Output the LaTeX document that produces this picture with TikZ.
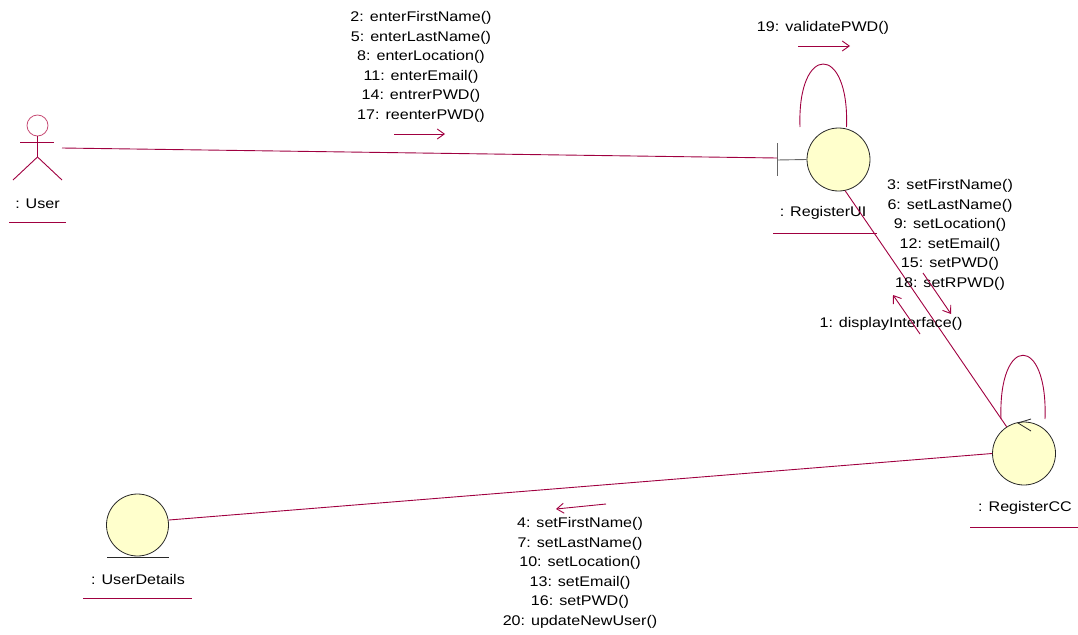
\documentclass[tikz,border=0pt]{standalone}
\usepackage{fontspec}
\setmainfont{Liberation Sans}[FakeStretch=1.15]
\usetikzlibrary{arrows.meta}
\definecolor{wine}{RGB}{160,0,64}
\definecolor{headc}{RGB}{200,80,120}
\definecolor{objfill}{RGB}{255,255,204}
\definecolor{objline}{RGB}{40,40,40}
\begin{document}
\begin{tikzpicture}[x=1pt,y=-1pt,
  conn/.style={draw=wine,line width=0.9pt},
  msgarrow/.style={draw=wine,line width=0.9pt,-{Straight Barb[length=7pt,width=10pt]}},
  objcircle/.style={circle,draw=objline,fill=objfill,line width=0.8pt,minimum size=63pt,inner sep=0pt},
  lbl/.style={font=\fontsize{14}{19.5}\selectfont,align=center,inner sep=0pt,text=black},
  uline/.style={draw=wine,line width=0.9pt}]
\useasboundingbox (0,0) rectangle (1078,634);

% ---------- User actor ----------
\node[circle,draw=headc,line width=0.8pt,minimum size=21pt,inner sep=0pt] (userhead) at (37.5,125.5) {};
\draw[conn] (20,142) -- (54,142);
\draw[conn] (userhead.south) -- (37.5,157) coordinate (hip);
\draw[conn] (hip) -- (13,180);
\draw[conn] (hip) -- (62,180);
\node[lbl] (userlbl) at (37.5,204) {: User};
\draw[uline] (9,222) -- (66,222);
\coordinate (userR) at (62,148);

% ---------- RegisterUI (boundary) ----------
\node[objcircle] (ui) at (838.5,159.5) {};
\draw[draw=gray!80!black,line width=0.9pt] (777,143) -- (777,176);
\draw[draw=gray!80!black,line width=0.9pt] (777,160) -- (ui.west);
\coordinate (uibar) at (777,158);
\node[lbl] (uilbl) at (823,213) {: RegisterUI};
\draw[uline] (773,233) -- (877,233);

% ---------- RegisterCC (control) ----------
\node[objcircle] (cc) at (1024,453.5) {};
\draw[draw=objline,line width=0.8pt] (1031,419) -- (1018,423) -- (1031,431);
\node[lbl] (cclbl) at (1025,508) {: RegisterCC};
\draw[uline] (970,527) -- (1078,527);

% ---------- UserDetails (entity) ----------
\node[objcircle,minimum size=62pt] (ud) at (137.5,525) {};
\draw[draw=objline,line width=0.8pt] (107,557) -- (169,557);
\node[lbl] (udlbl) at (138,579) {: UserDetails};
\draw[uline] (83,598) -- (192,598);

% ---------- links ----------
\draw[conn] (userR) -- (uibar);
\draw[conn] (ui.-78) -- (cc.123);
\draw[conn] (ud.east) ++(0,-5) coordinate (udE) (udE) -- (cc.west);

% self loops
\coordinate (uiloopL) at (800,127);
\coordinate (uiloopR) at (846.5,127);
\draw[conn] (uiloopL) .. controls (797,43) and (849.5,43) .. (uiloopR);
\coordinate (ccloopL) at (1001,419);
\coordinate (ccloopR) at (1045,419);
\draw[conn] (ccloopL) .. controls (998,334) and (1048,334) .. (ccloopR);

% ---------- messages ----------
\node[lbl] (m1) at (421,67) {2: enterFirstName()\\5: enterLastName()\\8: enterLocation()\\11: enterEmail()\\14: entrerPWD()\\17: reenterPWD()};
\coordinate (m1a) at (394,134); \coordinate (m1b) at (445,134);
\draw[msgarrow] (m1a) -- (m1b);

\node[lbl] (m2) at (823,28) {19: validatePWD()};
\coordinate (m2a) at (798,46); \coordinate (m2b) at (850,46);
\draw[msgarrow] (m2a) -- (m2b);

\node[lbl] (m3) at (950,235) {3: setFirstName()\\6: setLastName()\\9: setLocation()\\12: setEmail()\\15: setPWD()\\18: setRPWD()};
\coordinate (m3a) at (923,273); \coordinate (m3b) at (951,314);
\draw[msgarrow] (m3a) -- (m3b);

\node[lbl] (m4) at (891,324) {1: displayInterface()};
\coordinate (m4a) at (920,334); \coordinate (m4b) at (893,295);
\draw[msgarrow] (m4a) -- (m4b);

\node[lbl] (m5) at (580,573) {4: setFirstName()\\7: setLastName()\\10: setLocation()\\13: setEmail()\\16: setPWD()\\20: updateNewUser()};
\coordinate (m5a) at (606,504); \coordinate (m5b) at (556,509);
\draw[msgarrow] (m5a) -- (m5b);
\end{tikzpicture}
\end{document}
